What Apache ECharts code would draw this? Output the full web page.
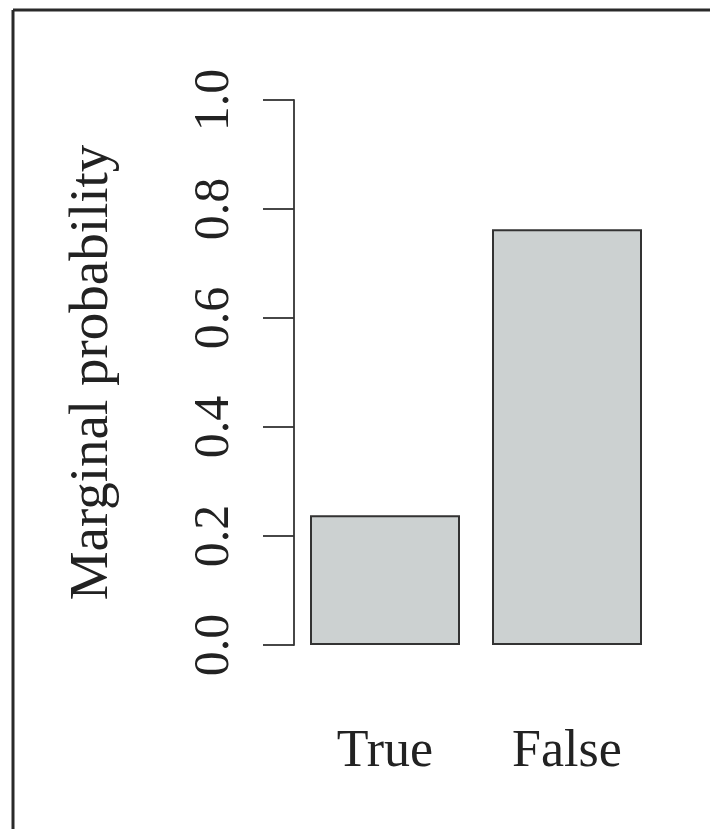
<!DOCTYPE html>
<html>
<head>
<meta charset="utf-8">
<script src="https://cdn.jsdelivr.net/npm/echarts@6/dist/echarts.min.js"></script>
<style>
html,body{margin:0;padding:0;background:#fff;}
#c{width:710px;height:829px;}
</style>
</head>
<body>
<div id="c"></div>
<script>
const categories = ['True', 'False'];
const probabilities = [0.238, 0.763];
const yTicks = [0, 0.2, 0.4, 0.6, 0.8, 1.0];
const yAxisTitle = 'Marginal probability';

const FONT = 'Liberation Serif';
const chart = echarts.init(document.getElementById('c'), null, {renderer: 'canvas'});
chart.setOption({
  animation: false,
  backgroundColor: '#ffffff',
  grid: {left: 294, right: 52, top: 100, bottom: 184},
  graphic: [
    {type: 'line', shape: {x1: 13, y1: 10, x2: 712, y2: 10}, style: {stroke: '#2a2a2a', lineWidth: 3}},
    {type: 'line', shape: {x1: 13, y1: 10, x2: 13, y2: 831}, style: {stroke: '#2a2a2a', lineWidth: 3}}
  ],
  xAxis: {
    type: 'category',
    data: categories,
    axisLine: {show: false},
    axisTick: {show: false},
    axisLabel: {margin: 81, fontFamily: FONT, fontSize: 52, color: '#222'}
  },
  yAxis: {
    type: 'value',
    min: yTicks[0],
    max: yTicks[yTicks.length - 1],
    interval: 0.2,
    name: yAxisTitle,
    nameLocation: 'middle',
    nameGap: 174,
    nameTextStyle: {fontFamily: FONT, fontSize: 55, color: '#222'},
    splitLine: {show: false},
    axisLine: {show: true, lineStyle: {color: '#333', width: 1.8}},
    axisTick: {show: true, length: 31, lineStyle: {color: '#333', width: 1.8}},
    axisLabel: {
      rotate: 90, margin: 54, fontFamily: FONT, fontSize: 50, color: '#222',
      formatter: v => v.toFixed(1)
    }
  },
  series: [{
    type: 'bar',
    data: probabilities,
    barWidth: 150,
    itemStyle: {color: '#ccd1d1', borderColor: '#333', borderWidth: 2}
  }]
});
</script>
</body>
</html>
